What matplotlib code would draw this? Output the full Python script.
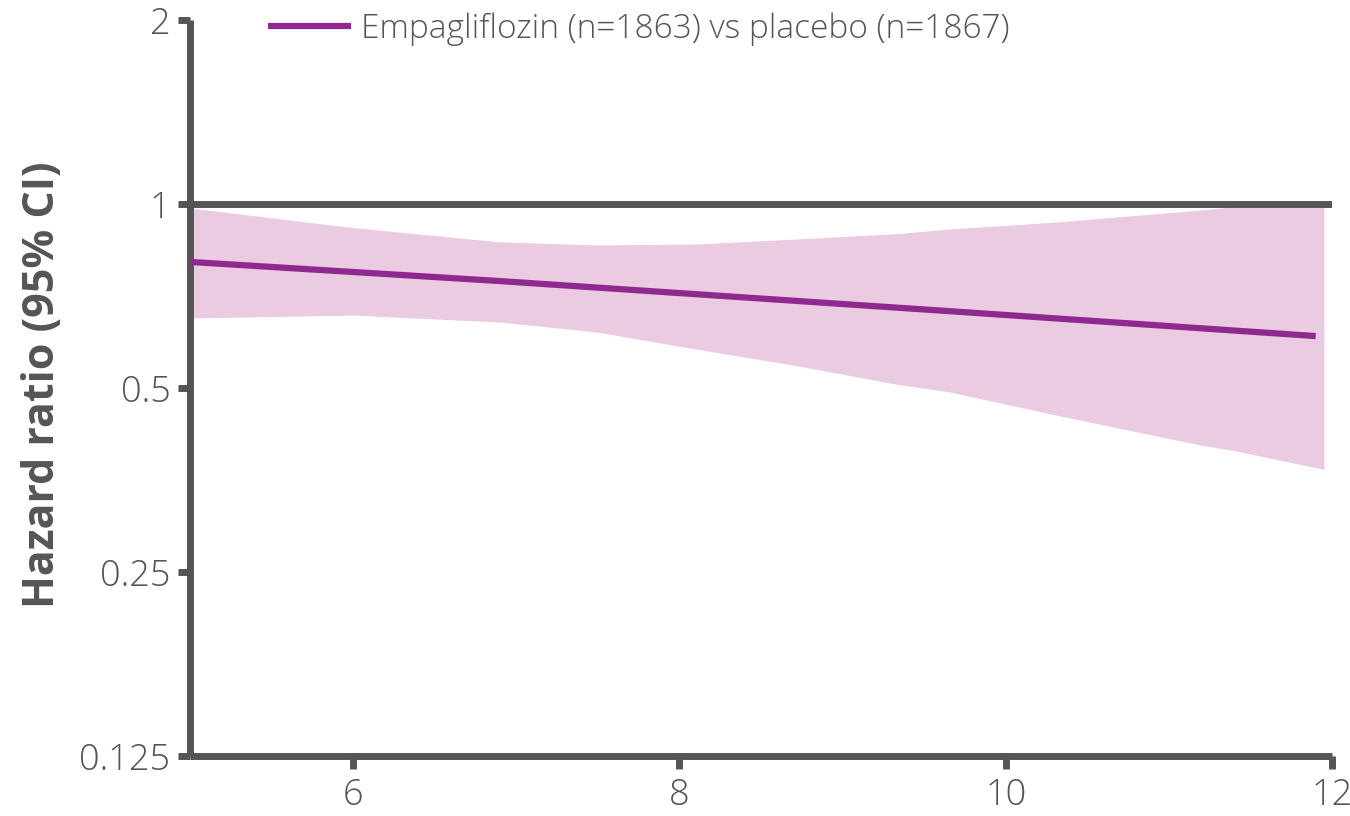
import matplotlib
matplotlib.use("Agg")
import matplotlib.pyplot as plt
from matplotlib.ticker import FixedLocator, FixedFormatter, NullLocator

# hazard ratio estimate over the x range
line_x = [5.0, 6.9, 9.65, 11.9]
line_hr = [0.804, 0.748, 0.668, 0.608]

# 95% CI band
band_x = [5.0, 6.0, 6.9, 7.5, 8.1, 8.7, 9.35, 9.65, 10.3, 11.2, 11.4, 11.95]
band_hi = [0.985, 0.915, 0.867, 0.857, 0.86, 0.876, 0.895, 0.91, 0.934, 0.978, 0.99, 0.99]
band_lo = [0.651, 0.658, 0.641, 0.617, 0.579, 0.545, 0.506, 0.493, 0.452, 0.403, 0.395, 0.368]

y_ticks = [0.125, 0.25, 0.5, 1, 2]
y_labels = ["0.125", "0.25", "0.5", "1", "2"]
x_ticks = [6, 8, 10, 12]
series_label = "Empagliflozin (n=1863) vs placebo (n=1867)"

DARK = "#555555"
TXT = "#555555"
PURPLE = "#8e2a8f"
PINK = "#ebcbe2"

plt.rcParams['font.family'] = ['Open Sans', 'DejaVu Sans']

fig = plt.figure(figsize=(13.5, 8.16), dpi=100)
ax = fig.add_axes([190 / 1350, 1 - 756 / 816, (1332 - 190) / 1350, (756 - 20) / 816])

ax.fill_between(band_x, band_lo, band_hi, color=PINK, lw=0, zorder=1)
ax.plot(line_x, line_hr, color=PURPLE, lw=4.5, solid_capstyle='butt', zorder=3,
        label=series_label)
ax.axhline(1, color=DARK, lw=5, zorder=4, solid_capstyle='butt')

ax.set_yscale('log', base=2)
ax.set_ylim(0.125, 2)
ax.set_xlim(5, 12)
ax.yaxis.set_major_locator(FixedLocator(y_ticks))
ax.yaxis.set_major_formatter(FixedFormatter(y_labels))
ax.yaxis.set_minor_locator(NullLocator())
ax.set_xticks(x_ticks)
ax.set_xticklabels([str(t) for t in x_ticks])

for s in ['top', 'right']:
    ax.spines[s].set_visible(False)
for s in ['left', 'bottom']:
    ax.spines[s].set_color(DARK)
    ax.spines[s].set_linewidth(5)
    ax.spines[s].set_capstyle('butt')

ax.tick_params(axis='both', direction='out', length=9, width=5, color=DARK,
               labelsize=26, labelcolor=TXT)
ax.tick_params(axis='y', pad=5)
ax.tick_params(axis='x', pad=6)
for lab in ax.get_xticklabels() + ax.get_yticklabels():
    lab.set_fontweight('light')

ax.set_ylabel("Hazard ratio (95% CI)", fontsize=31, fontweight='bold', color=DARK)
ax.yaxis.set_label_coords(-0.11, 0.504)

fig.legend(loc='upper left', bbox_to_anchor=(268 / 1350, 1 - 12 / 816), frameon=False,
           borderpad=0, borderaxespad=0, handlelength=2.5, handletextpad=0.3,
           prop={'size': 24, 'weight': 'light'}, labelcolor=TXT)

fig.savefig("out.png", dpi=100)
